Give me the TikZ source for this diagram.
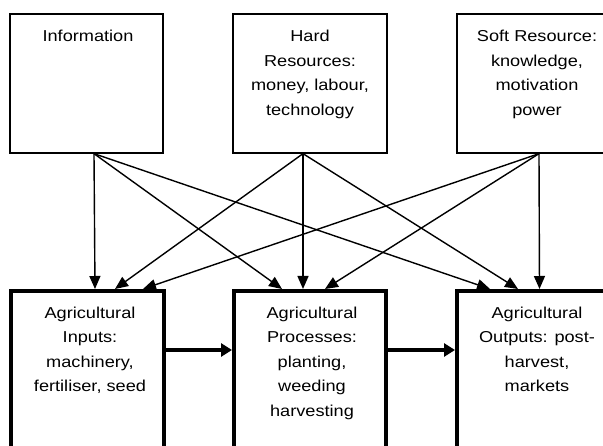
\documentclass[tikz,border=0pt]{standalone}
\usepackage{fontspec}
\setmainfont{Liberation Sans}[FakeStretch=1.15]
\usetikzlibrary{positioning,arrows.meta}

\begin{document}
\begin{tikzpicture}[x=1pt,y=-1pt,
    srcbox/.style={rectangle, draw, line width=1.3pt, minimum height=139pt, inner sep=0pt},
    agrbox/.style={rectangle, draw, line width=4pt, minimum height=200pt, inner sep=0pt},
    boxtext/.style={align=center, inner sep=0pt, font=\fontsize{15.8}{24.5}\selectfont},
    link/.style={line width=1.4pt, -{Triangle[width=11pt,length=13pt]}},
    flow/.style={line width=4pt, -{Triangle[width=13pt,length=11pt]}}]

% page size, the lower boxes run off the bottom
\useasboundingbox (0,0) rectangle (603,446);
\clip (0,0) rectangle (603,446);

% the three resources at the top
\node[srcbox, minimum width=153pt] (info) at (86.5,83.5) {};
\node[srcbox, minimum width=154pt] (hard) at (310,83.5) {};
\node[srcbox, minimum width=158pt] (soft) at (536,83.5) {};

\node[boxtext, anchor=north] (infotext) at ([xshift=1.5pt,yshift=-17pt]info.north) {Information};
\node[boxtext, anchor=north] (hardtext) at ([yshift=-17pt]hard.north) {Hard\\Resources:\\money, labour,\\technology};
\node[boxtext, anchor=north] (softtext) at ([xshift=1pt,yshift=-17pt]soft.north) {Soft Resource:\\knowledge,\\motivation\\power};

% the three agricultural stages
\node[agrbox, minimum width=153pt] (inputs) at (87.5,391) {};
\node[agrbox, minimum width=152pt] (procs) at (310,391) {};
\node[agrbox, minimum width=162pt] (outputs) at (538,391) {};

\node[boxtext, anchor=north] (inputstext) at ([xshift=2.5pt,yshift=-17.5pt]inputs.north) {Agricultural\\Inputs:\\machinery,\\fertiliser, seed};
\node[boxtext, anchor=north] (procstext) at ([xshift=2pt,yshift=-17.5pt]procs.north) {Agricultural\\Processes:\\planting,\\weeding\\harvesting};
\node[boxtext, anchor=north] (outputstext) at ([xshift=-1pt,yshift=-17.5pt]outputs.north) {Agricultural\\Outputs: post-\\harvest,\\markets};

% where the arrows leave and arrive
\coordinate (infoout) at ([xshift=7.5pt]info.south);
\coordinate (hardout) at ([xshift=-7pt]hard.south);
\coordinate (softout) at ([xshift=3pt]soft.south);

\coordinate (inputsa) at ([xshift=7.5pt]inputs.north);
\coordinate (inputsb) at ([xshift=27.5pt]inputs.north);
\coordinate (inputsc) at ([xshift=55.5pt]inputs.north);
\coordinate (procsa) at ([xshift=-28pt]procs.north);
\coordinate (procsb) at ([xshift=-7pt]procs.north);
\coordinate (procsc) at ([xshift=15pt]procs.north);
\coordinate (outputsa) at ([xshift=-48pt]outputs.north);
\coordinate (outputsb) at ([xshift=-20pt]outputs.north);
\coordinate (outputsc) at ([xshift=1.5pt]outputs.north);

% every resource feeds every stage
\draw[link] (infoout) -- (inputsa);
\draw[link] (infoout) -- (procsa);
\draw[link] (infoout) -- (outputsa);
\draw[link] (hardout) -- (inputsb);
\draw[link] (hardout) -- (procsb);
\draw[link] (hardout) -- (outputsb);
\draw[link] (softout) -- (inputsc);
\draw[link] (softout) -- (procsc);
\draw[link] (softout) -- (outputsc);

% and the stages follow one another
\draw[flow] ([yshift=41pt]inputs.east) -- ([yshift=41pt]procs.west);
\draw[flow] ([yshift=41pt]procs.east) -- ([yshift=41pt]outputs.west);
\end{tikzpicture}
\end{document}
